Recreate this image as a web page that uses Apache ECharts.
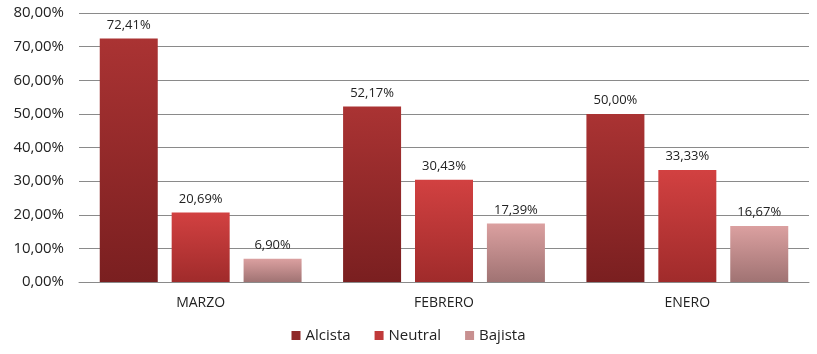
<!DOCTYPE html>
<html><head><meta charset="utf-8">
<script src="https://cdn.jsdelivr.net/npm/echarts@6/dist/echarts.min.js"></script>
<style>html,body{margin:0;padding:0;background:#fff}#c{width:817px;height:354px}</style>
</head><body><div id="c"></div>
<script>
const categories = ['MARZO', 'FEBRERO', 'ENERO'];
const seriesNames = ['Alcista', 'Neutral', 'Bajista'];
const alcista = [72.41, 52.17, 50.00];
const neutral = [20.69, 30.43, 33.33];
const bajista = [6.90, 17.39, 16.67];
const yTicks = [0, 10, 20, 30, 40, 50, 60, 70, 80];

const fmt = v => v.toFixed(2).replace('.', ',') + '%';
const grad = (t, b) => new echarts.graphic.LinearGradient(0, 0, 0, 1, [{offset: 0, color: t}, {offset: 1, color: b}]);
const colors = [
  grad('#aa3333', '#7a1f20'),
  grad('#d24141', '#a02b2b'),
  grad('#dba0a0', '#a07373')
];
const legendColors = ['#8e2828', '#c03a3a', '#c89090'];
const font = 'Open Sans, Liberation Sans, sans-serif';
const mk = (name, data, i) => ({
  name, type: 'bar', data, barWidth: 58, barGap: '24%',
  itemStyle: {color: colors[i]},
  label: {show: true, position: 'top', distance: 7, formatter: p => fmt(p.value), color: '#222', fontSize: 13, fontFamily: font}
});
const chart = echarts.init(document.getElementById('c'));
chart.setOption({
  animation: false,
  grid: {left: 79, right: 8, top: 13, bottom: 72, containLabel: false},
  legend: {
    data: seriesNames.map((n, i) => ({name: n, itemStyle: {color: legendColors[i]}})),
    bottom: 6, left: 'center', itemWidth: 9, itemHeight: 9, itemGap: 24,
    icon: 'rect', textStyle: {fontSize: 15, color: '#222', fontFamily: font}
  },
  xAxis: {
    type: 'category', data: categories,
    axisLine: {lineStyle: {color: '#8a8a8a'}}, axisTick: {show: false},
    axisLabel: {color: '#222', fontSize: 14, fontFamily: font, margin: 14}
  },
  yAxis: {
    type: 'value', min: 0, max: 80, interval: 10,
    axisLine: {show: false}, axisTick: {show: false},
    splitLine: {lineStyle: {color: '#8a8a8a'}},
    axisLabel: {formatter: v => fmt(v), color: '#222', fontSize: 15, fontFamily: font, margin: 15}
  },
  series: [mk(seriesNames[0], alcista, 0), mk(seriesNames[1], neutral, 1), mk(seriesNames[2], bajista, 2)]
});
</script></body></html>
